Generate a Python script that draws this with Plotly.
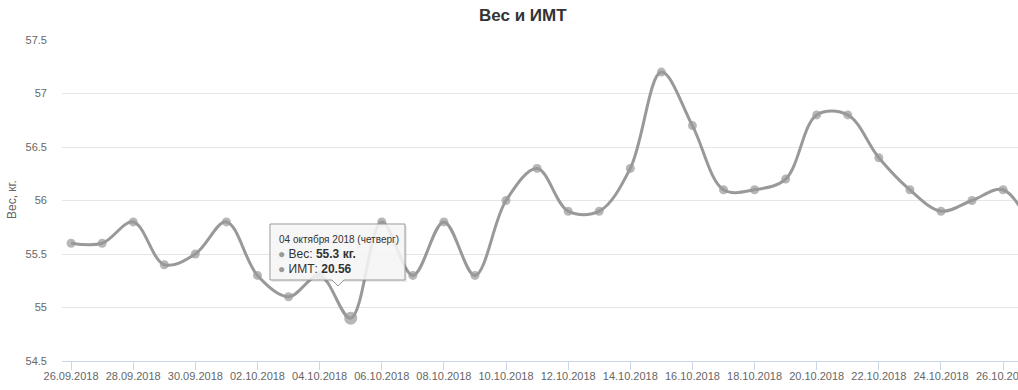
import plotly.graph_objects as go

dates = ["2018-09-26", "2018-09-27", "2018-09-28", "2018-09-29", "2018-09-30",
         "2018-10-01", "2018-10-02", "2018-10-03", "2018-10-04", "2018-10-05",
         "2018-10-06", "2018-10-07", "2018-10-08", "2018-10-09", "2018-10-10",
         "2018-10-11", "2018-10-12", "2018-10-13", "2018-10-14", "2018-10-15",
         "2018-10-16", "2018-10-17", "2018-10-18", "2018-10-19", "2018-10-20",
         "2018-10-21", "2018-10-22", "2018-10-23", "2018-10-24", "2018-10-25",
         "2018-10-26", "2018-10-27"]
weights = [55.6, 55.6, 55.8, 55.4, 55.5, 55.8, 55.3, 55.1, 55.3, 54.9,
           55.8, 55.3, 55.8, 55.3, 56.0, 56.3, 55.9, 55.9, 56.3, 57.2,
           56.7, 56.1, 56.1, 56.2, 56.8, 56.8, 56.4, 56.1, 55.9, 56.0,
           56.1, 55.7]
hover_index = 9
last_tick_date = "2018-10-26"
last_tick_label = "26.10.2018"

title_text = "Вес и ИМТ"
y_title = "Вес, кг."
tip_date = "04 октября 2018 (четверг)"
tip_weight = "55.3 кг."
tip_bmi = "20.56"

W, H = 1018, 390
L, R, T, B = 62, 0, 40, 29
PW, PH = W - L - R, H - T - B

def px(x):
    return (x - L) / PW

def py(y):
    return (H - B - y) / PH

FONT = "Liberation Sans, Arial, sans-serif"
COLOR = "#999999"

sizes = [9] * len(weights)
sizes[hover_index] = 13

fig = go.Figure()
fig.add_trace(go.Scatter(
    x=dates, y=weights, mode="lines+markers",
    line=dict(color=COLOR, width=3, shape="spline", smoothing=1.0),
    marker=dict(color=COLOR, size=sizes, line=dict(width=0)),
    cliponaxis=True, showlegend=False, hoverinfo="skip",
))

# tooltip
x0, x1, y0, y1 = 270, 405, 224, 280
tipx, tipy = 338, 286
path = (f"M {px(x0)},{py(y0)} L {px(x1)},{py(y0)} L {px(x1)},{py(y1)} "
        f"L {px(tipx+6)},{py(y1)} L {px(tipx)},{py(tipy)} L {px(tipx-6)},{py(y1)} "
        f"L {px(x0)},{py(y1)} Z")
shadow = (f"M {px(x0+2)},{py(y0+2)} L {px(x1+2)},{py(y0+2)} L {px(x1+2)},{py(y1+2)} "
          f"L {px(x0+2)},{py(y1+2)} Z")
shapes = [
    dict(type="path", xref="paper", yref="paper", path=shadow,
         fillcolor="rgba(0,0,0,0.08)", line=dict(width=0), layer="above"),
    dict(type="path", xref="paper", yref="paper", path=path,
         fillcolor="rgba(247,247,247,0.88)", line=dict(color=COLOR, width=1), layer="above"),
]

annotations = [
    dict(text=f"<b>{title_text}</b>", x=px(523), y=py(16), xref="paper", yref="paper",
         xanchor="center", yanchor="middle", showarrow=False,
         font=dict(family=FONT, size=17, color="#333333")),
    dict(text=y_title, x=px(12), y=py(200), xref="paper", yref="paper", textangle=-90,
         xanchor="center", yanchor="middle", showarrow=False,
         font=dict(family=FONT, size=12, color="#666666")),
    dict(text=tip_date, x=px(277), y=py(239), xref="paper", yref="paper",
         xanchor="left", yanchor="middle", showarrow=False,
         font=dict(family=FONT, size=10, color="#333333")),
    dict(text=f"<span style='color:{COLOR}'>●</span> Вес: <b>{tip_weight}</b>",
         x=px(276), y=py(254), xref="paper", yref="paper",
         xanchor="left", yanchor="middle", showarrow=False,
         font=dict(family=FONT, size=12, color="#333333")),
    dict(text=f"<span style='color:{COLOR}'>●</span> ИМТ: <b>{tip_bmi}</b>",
         x=px(276), y=py(269), xref="paper", yref="paper",
         xanchor="left", yanchor="middle", showarrow=False,
         font=dict(family=FONT, size=12, color="#333333")),
    # last tick label, cut off by the chart edge as in the reference
    dict(text=last_tick_label, x=last_tick_date, y=py(376), xref="x", yref="paper",
         xanchor="center", yanchor="middle", showarrow=False,
         font=dict(family=FONT, size=11, color="#666666")),
]

fig.update_layout(
    width=W, height=H,
    margin=dict(l=L, r=R, t=T, b=B, pad=0),
    paper_bgcolor="white", plot_bgcolor="white",
    font=dict(family=FONT, size=11, color="#666666"),
    shapes=shapes, annotations=annotations,
    xaxis=dict(
        type="date",
        range=["2018-09-25 17:00", "2018-10-26 11:30"],
        tick0="2018-09-26", dtick=2 * 86400000, tickformat="%d.%m.%Y",
        ticks="outside", ticklen=8, tickcolor="#ccd6eb", tickwidth=1,
        ticklabelstandoff=-3,
        showline=True, linecolor="#ccd6eb", linewidth=1,
        showgrid=False, zeroline=False,
        tickfont=dict(family=FONT, size=11, color="#666666"),
    ),
    yaxis=dict(
        range=[54.5, 57.5], dtick=0.5, tick0=54.5,
        showgrid=True, gridcolor="#e6e6e6", gridwidth=1,
        zeroline=False, showline=False, ticks="",
        ticklabelstandoff=14,
        tickfont=dict(family=FONT, size=11, color="#666666"),
    ),
)

fig.write_html("out.html")
